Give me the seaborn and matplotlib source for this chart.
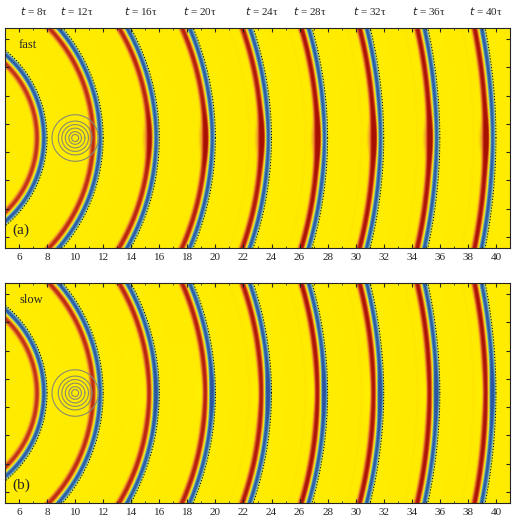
import numpy as np
import seaborn as sns
import matplotlib.pyplot as plt
from matplotlib.colors import LinearSegmentedColormap

sns.set_style("ticks")
plt.rcParams['font.family'] = ['Liberation Serif', 'DejaVu Serif']

# snapshot times (in units of tau) and front radius
times = [8, 12, 16, 20, 24, 28, 32, 36, 40]
label_x = [7.1, 10.1, 14.7, 18.9, 23.3, 26.7, 31.0, 35.2, 39.3]
scat_center = (10.0, 0.0)
scat_radii = [0.25, 0.45, 0.7, 0.95, 1.2, 1.65]
# scattered-wave strength per panel
scatter_amp = {"fast": 0.55, "slow": -0.45}
panel_tags = ["(a)", "(b)"]

cmap = LinearSegmentedColormap.from_list(
    "wave", ["#2b55a0", "#3f80b8", "#80c0b8", "#fff000", "#ffe800", "#f09030", "#c83a18", "#a81000"])

xs = np.linspace(5.0, 41.0, 1500)
ys = np.linspace(-7.8, 7.8, 650)
X, Y = np.meshgrid(xs, ys)
R = np.hypot(X, Y)


def field(kind):
    f = np.zeros_like(R)
    for t in times:
        d = R - t
        red = 0.7 + 0.3 * min(t, 28) / 28
        f += -np.exp(-((d + 0.25) / 0.2) ** 2) + red * np.exp(-((d + 0.72) / 0.24) ** 2)
        f += 0.15 * np.exp(-((d + 1.6) / 0.15) ** 2) * (t > 20)
        if t > 12:
            a = scatter_amp[kind] * (min(t, 24) / 24)
            shift = 0.6 if kind == "fast" else 0.3
            f += a * np.exp(-((d + shift) / 0.22) ** 2) * np.exp(-(Y / 1.6) ** 2)
            f += 0.2 * np.sign(a) * np.exp(-((d + 1.1) / 0.2) ** 2) * np.exp(-(Y / 1.2) ** 2)
    return f


fig = plt.figure(figsize=(5.2, 5.18), dpi=100)
boxes = [[5 / 520, 1 - 248 / 518, 505 / 520, 220 / 518],
         [5 / 520, 1 - 503 / 518, 505 / 520, 220 / 518]]
for i, kind in enumerate(["fast", "slow"]):
    ax = fig.add_axes(boxes[i])
    ax.imshow(field(kind), extent=[5, 41, -7.8, 7.8], origin="lower", cmap=cmap,
              vmin=-1, vmax=1, aspect="auto", interpolation="bilinear")
    th = np.linspace(0, 2 * np.pi, 900)
    for t in times:
        ax.plot(t * np.cos(th), t * np.sin(th), color="black", lw=0.7, ls=(0, (1.2, 1.8)))
    for r in scat_radii:
        ax.plot(scat_center[0] + r * np.cos(th), scat_center[1] + r * np.sin(th),
                color="#8a8a70", lw=0.8)
    ax.set_xlim(5, 41)
    ax.set_ylim(-7.8, 7.8)
    ax.set_xticks(range(6, 41, 2))
    ax.set_xticks(range(5, 42, 1), minor=True)
    ax.set_yticks(range(-7, 8, 2))
    ax.set_yticklabels([])
    ax.tick_params(axis="both", which="both", direction="in", top=True, right=True,
                   labelsize=8, length=3)
    ax.tick_params(which="minor", length=1.5)
    ax.text(6.0, 6.4, kind, fontsize=9)
    ax.text(5.5, -6.8, panel_tags[i], fontsize=11)
    if i == 0:
        for lx, t in zip(label_x, times):
            ax.text(lx, 8.6, f"$t$ = {t}τ", fontsize=8, ha="center", va="bottom")

fig.savefig("out.png", dpi=100)
